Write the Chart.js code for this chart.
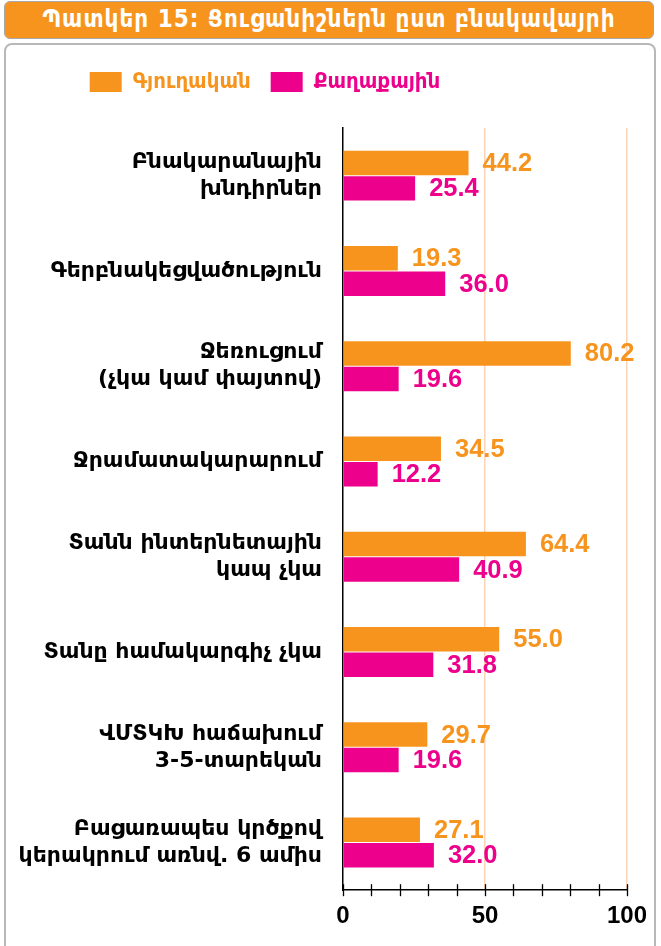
<!DOCTYPE html>
<html>
<head>
<meta charset="utf-8">
<script src="https://cdn.jsdelivr.net/npm/chart.js@4.4.1/dist/chart.umd.min.js"></script>
<style>
  body { margin: 0; background: #fff; }
  #page { position: relative; width: 661px; height: 946px; overflow: hidden; }
  #titleBar {
    position: absolute; left: 4px; top: 1px; width: 650px; height: 38px;
    box-sizing: border-box; background: #F7941D; border: 1.5px solid #A8A8A8; border-radius: 6px;
    color: #fff; font: bold 24px "DejaVu Sans Condensed", "DejaVu Sans", sans-serif;
    letter-spacing: 1px; text-align: center; line-height: 35px;
  }
  #panel {
    position: absolute; left: 4px; top: 43px; width: 652px; height: 930px;
    box-sizing: border-box; border: 2px solid #B8B8B8; border-radius: 8px;
  }
  #chart { position: absolute; left: 0; top: 0; }
</style>
</head>
<body>
<div id="page">
  <div id="titleBar">Պատկեր 15: Ցուցանիշներն ըստ բնակավայրի</div>
  <div id="panel"></div>
  <canvas id="chart" width="661" height="946"></canvas>
</div>
<script>
// DATA
const categories = [
    ["Բնակարանային", "խնդիրներ"],
    "Գերբնակեցվածություն",
    ["Ջեռուցում", "(չկա կամ փայտով)"],
    "Ջրամատակարարում",
    ["Տանն ինտերնետային", "կապ չկա"],
    "Տանը համակարգիչ չկա",
    ["ՎՄՏԿԽ հաճախում", "3-5-տարեկան"],
    ["Բացառապես կրծքով", "կերակրում առնվ. 6 ամիս"]
];
const seriesNames = ["Գյուղական", "Քաղաքային"];
const rural = [44.2, 19.3, 80.2, 34.5, 64.4, 55.0, 29.7, 27.1];
const urban = [25.4, 36.0, 19.6, 12.2, 40.9, 31.8, 19.6, 32.0];
const xTicksShown = [0, 50, 100];

const ORANGE = "#F7941D";
const MAGENTA = "#EC008C";
const PEACH = "#FBD3B6";
const LABEL_FONT = "'DejaVu Sans', sans-serif";
const NUM_FONT = "'Liberation Sans', Arial, sans-serif";

// value labels to the right of each bar
const valueLabels = {
    id: "valueLabels",
    afterDatasetsDraw(chart) {
        const ctx = chart.ctx;
        ctx.save();
        ctx.font = "bold 25.5px " + NUM_FONT;
        ctx.textBaseline = "middle";
        ctx.textAlign = "left";
        chart.data.datasets.forEach((ds, di) => {
            chart.getDatasetMeta(di).data.forEach((bar, i) => {
                ctx.fillStyle = ds.backgroundColor;
                ctx.fillText(ds.data[i].toFixed(1), bar.x + 14, bar.y + 1);
            });
        });
        ctx.restore();
    }
};

// tick marks crossing the x axis line
const crossTicks = {
    id: "crossTicks",
    afterDraw(chart) {
        const sx = chart.scales.x;
        const y0 = chart.chartArea.bottom;
        const ctx = chart.ctx;
        ctx.save();
        ctx.strokeStyle = "#000";
        ctx.lineWidth = 1.3;
        sx.ticks.forEach(t => {
            const px = Math.round(sx.getPixelForValue(t.value)) + 0.5;
            ctx.beginPath();
            ctx.moveTo(px, y0 - 6);
            ctx.lineTo(px, y0 + 6);
            ctx.stroke();
        });
        ctx.restore();
    }
};

// legend sits left of centre in the original
const legendShift = {
    id: "legendShift",
    afterLayout(chart) {
        const lg = chart.legend;
        const dx = 265 - (lg.left + lg.right) / 2;
        lg.left += dx;
        lg.right += dx;
    }
};

new Chart(document.getElementById("chart"), {
    type: "bar",
    data: {
        labels: categories,
        datasets: [
            { label: seriesNames[0], data: rural, backgroundColor: ORANGE },
            { label: seriesNames[1], data: urban, backgroundColor: MAGENTA }
        ]
    },
    options: {
        indexAxis: "y",
        responsive: false,
        animation: false,
        categoryPercentage: 0.535,
        barPercentage: 0.96,
        layout: { padding: { top: 51, left: 10, right: 34, bottom: 3 } },
        plugins: {
            legend: {
                position: "top",
                labels: {
                    boxWidth: 32,
                    boxHeight: 20,
                    padding: 20,
                    font: { family: "'DejaVu Sans Condensed', 'DejaVu Sans'", size: 22, weight: "bold" },
                    generateLabels(chart) {
                        return Chart.defaults.plugins.legend.labels.generateLabels(chart).map(it => {
                            it.fontColor = chart.data.datasets[it.datasetIndex].backgroundColor;
                            it.strokeStyle = "rgba(0,0,0,0)";
                            it.lineWidth = 0;
                            return it;
                        });
                    }
                }
            },
            tooltip: { enabled: false }
        },
        scales: {
            x: {
                min: 0,
                max: 100,
                ticks: {
                    stepSize: 10,
                    autoSkip: false,
                    maxRotation: 0,
                    padding: 12,
                    color: "#000",
                    font: { family: NUM_FONT, size: 24, weight: "bold" },
                    callback: v => xTicksShown.includes(v) ? v : ""
                },
                grid: {
                    drawTicks: false,
                    lineWidth: 1.5,
                    color: c => (c.tick && c.tick.value > 0 && c.tick.value % 50 === 0) ? PEACH : "rgba(0,0,0,0)"
                },
                border: { color: "#000", width: 1.5 }
            },
            // empty top axis, only keeps a gap under the legend
            xGap: {
                type: "linear",
                position: "top",
                display: true,
                ticks: { display: false },
                grid: { display: false, drawTicks: false },
                border: { display: false },
                afterFit(scale) { scale.height = 25; }
            },
            y: {
                afterFit(scale) { scale.width = 333; },
                grid: { drawTicks: false, color: "rgba(0,0,0,0)" },
                border: { color: "#000", width: 1.5 },
                ticks: {
                    padding: 21,
                    color: "#000",
                    font: { family: LABEL_FONT, size: 22, weight: "bold", lineHeight: "27px" }
                }
            }
        }
    },
    plugins: [valueLabels, crossTicks, legendShift]
});
</script>
</body>
</html>
